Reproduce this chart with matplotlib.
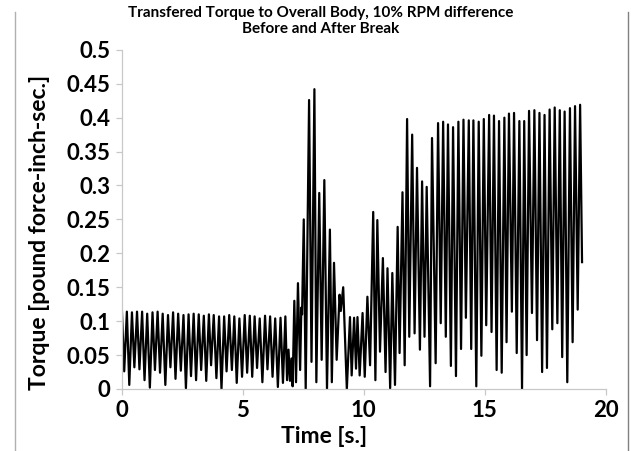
import matplotlib
matplotlib.use("Agg")
import matplotlib.pyplot as plt
from matplotlib.lines import Line2D

plt.rcParams['font.family'] = ['Lato', 'DejaVu Sans']

# signal (time [s], torque)
time_s = [
    0.00, 0.10, 0.21, 0.31, 0.42, 0.52, 0.63, 0.73, 0.84, 0.94,
    1.05, 1.16, 1.27, 1.37, 1.48, 1.58, 1.69, 1.80, 1.91, 2.01,
    2.12, 2.22, 2.33, 2.44, 2.55, 2.65, 2.76, 2.86, 2.97, 3.07,
    3.18, 3.28, 3.39, 3.49, 3.60, 3.69, 3.80, 3.91, 4.02, 4.12,
    4.23, 4.33, 4.44, 4.55, 4.65, 4.75, 4.86, 4.97, 5.08, 5.18,
    5.29, 5.39, 5.49, 5.59, 5.70, 5.81, 5.92, 6.02, 6.13, 6.23,
    6.34, 6.45, 6.56, 6.66, 6.76, 6.83, 6.89, 6.95, 7.01, 7.06,
    7.13, 7.20, 7.28, 7.37, 7.42, 7.45, 7.52, 7.60, 7.74, 7.84,
    7.96, 8.04, 8.16, 8.26, 8.37, 8.48, 8.60, 8.68, 8.77, 8.88,
    9.00, 9.05, 9.15, 9.30, 9.43, 9.50, 9.60, 9.68, 9.74, 9.83,
    9.95, 10.04, 10.15, 10.26, 10.39, 10.48, 10.56, 10.67, 10.79, 10.90,
    10.98, 11.09, 11.18, 11.29, 11.40, 11.48, 11.60, 11.69, 11.79, 11.88,
    12.00, 12.10, 12.20, 12.32, 12.41, 12.51, 12.60, 12.74, 12.82, 12.97,
    13.07, 13.18, 13.28, 13.39, 13.48, 13.60, 13.69, 13.81, 13.91, 14.02,
    14.12, 14.22, 14.34, 14.44, 14.53, 14.65, 14.75, 14.86, 14.96, 15.06,
    15.18, 15.28, 15.38, 15.49, 15.59, 15.70, 15.81, 15.90, 16.00, 16.12,
    16.21, 16.32, 16.43, 16.54, 16.63, 16.73, 16.83, 16.95, 17.05, 17.16,
    17.26, 17.37, 17.47, 17.57, 17.68, 17.79, 17.89, 18.00, 18.10, 18.20,
    18.30, 18.41, 18.52, 18.63, 18.73, 18.84, 18.94, 19.02,
]
torque = [
    0.120, 0.026, 0.114, 0.006, 0.113, 0.032, 0.114, 0.029, 0.114, 0.013,
    0.111, 0.002, 0.113, 0.028, 0.114, 0.024, 0.111, 0.006, 0.109, 0.032,
    0.113, 0.015, 0.111, 0.027, 0.109, 0.001, 0.110, 0.019, 0.111, 0.013,
    0.110, 0.028, 0.108, 0.012, 0.110, 0.035, 0.109, 0.016, 0.107, 0.000,
    0.107, 0.026, 0.109, 0.028, 0.107, 0.009, 0.104, 0.018, 0.109, 0.024,
    0.108, 0.018, 0.107, 0.031, 0.104, 0.010, 0.108, 0.029, 0.107, 0.018,
    0.104, 0.003, 0.105, 0.009, 0.107, 0.013, 0.058, 0.012, 0.045, 0.004,
    0.130, 0.010, 0.156, 0.028, 0.120, 0.110, 0.250, 0.000, 0.426, 0.040,
    0.442, 0.010, 0.289, 0.043, 0.308, 0.000, 0.235, 0.010, 0.186, 0.043,
    0.139, 0.115, 0.150, 0.000, 0.106, 0.020, 0.105, 0.030, 0.106, 0.020,
    0.112, 0.018, 0.136, 0.035, 0.261, 0.013, 0.249, 0.055, 0.193, 0.025,
    0.178, 0.001, 0.171, 0.006, 0.239, 0.053, 0.290, 0.035, 0.398, 0.077,
    0.375, 0.082, 0.326, 0.058, 0.306, 0.077, 0.298, 0.004, 0.370, 0.038,
    0.392, 0.097, 0.394, 0.077, 0.390, 0.034, 0.386, 0.019, 0.394, 0.059,
    0.397, 0.105, 0.396, 0.059, 0.396, 0.004, 0.394, 0.049, 0.398, 0.094,
    0.404, 0.084, 0.403, 0.028, 0.395, 0.024, 0.400, 0.069, 0.406, 0.114,
    0.407, 0.053, 0.395, 0.000, 0.395, 0.050, 0.410, 0.112, 0.411, 0.072,
    0.407, 0.025, 0.404, 0.031, 0.412, 0.088, 0.415, 0.097, 0.411, 0.047,
    0.409, 0.010, 0.414, 0.069, 0.417, 0.117, 0.419, 0.187,
]

title_lines = ["Transfered Torque to Overall Body, 10% RPM difference",
               "Before and After Break"]
x_ticks = [0, 5, 10, 15, 20]
y_ticks = [0, 0.05, 0.1, 0.15, 0.2, 0.25, 0.3, 0.35, 0.4, 0.45, 0.5]
y_tick_labels = ["0", "0.05", "0.1", "0.15", "0.2", "0.25", "0.3", "0.35", "0.4", "0.45", "0.5"]

fig = plt.figure(figsize=(6.31, 4.51), dpi=100)
ax = fig.add_axes([0.193, 0.1375, 0.767, 0.752])

ax.plot(time_s, torque, color="black", lw=1.6)

ax.set_xlim(0, 20)
ax.set_ylim(0, 0.5)
ax.set_xticks(x_ticks)
ax.set_yticks(y_ticks)
ax.set_yticklabels(y_tick_labels)

for s in ["top", "right"]:
    ax.spines[s].set_visible(False)
for s in ["left", "bottom"]:
    ax.spines[s].set_color("#c8c8c8")
    ax.spines[s].set_linewidth(0.9)
ax.tick_params(direction="out", length=4, width=0.9, color="#c8c8c8",
               labelsize=16, pad=4)
for lab in ax.get_xticklabels() + ax.get_yticklabels():
    lab.set_fontweight("bold")

ax.set_xlabel("Time [s.]", fontsize=16.5, fontweight="bold", va="center")
ax.xaxis.set_label_coords(0.417, -0.14)
ax.set_ylabel("Torque [pound force-inch-sec.]", fontsize=16.5, fontweight="bold", va="center")
ax.yaxis.set_label_coords(-0.169, 0.463)

fig.text(0.508, 0.971, title_lines[0], ha="center", va="center", fontsize=11, fontweight="bold")
fig.text(0.508, 0.935, title_lines[1], ha="center", va="center", fontsize=11, fontweight="bold")

# chart border (left and right edges only)
fig.add_artist(Line2D([15 / 631, 15 / 631], [0, 1 - 12 / 451], transform=fig.transFigure,
                      color="#b0b0b0", lw=1))
fig.add_artist(Line2D([628 / 631, 628 / 631], [0, 1 - 12 / 451], transform=fig.transFigure,
                      color="#808080", lw=1))

fig.savefig("out.png", dpi=100)
